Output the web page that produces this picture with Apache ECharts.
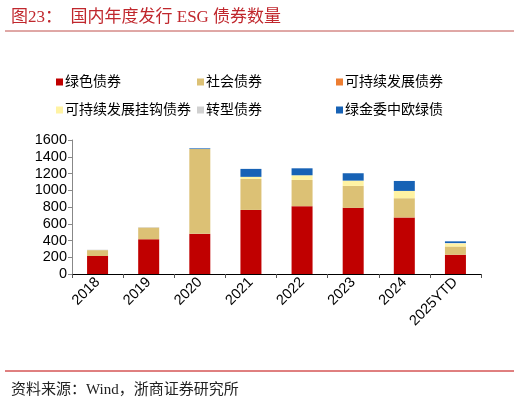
<!DOCTYPE html>
<html>
<head>
<meta charset="utf-8">
<script src="https://cdn.jsdelivr.net/npm/echarts@6/dist/echarts.min.js"></script>
<style>
    html, body { margin: 0; padding: 0; background: #fff; }
    #chart { width: 520px; height: 402px; }
</style>
</head>
<body>
<div id="chart"></div>
<script>
// 年份
const years = ['2018', '2019', '2020', '2021', '2022', '2023', '2024', '2025YTD']

// 各类债券数量（只）
const greenBonds = [215, 415, 480, 765, 810, 790, 675, 230]
const socialBonds = [70, 140, 1012, 370, 313, 262, 230, 99]
const sustainBonds = [0, 0, 0, 0, 0, 0, 0, 0]
const slbBonds = [0, 0, 0, 25, 56, 63, 87, 36]
const transBonds = [5, 5, 0, 0, 0, 0, 0, 5]
const ceuBonds = [0, 0, 8, 95, 83, 88, 119, 20]

const names = ['绿色债券', '社会债券', '可持续发展债券', '可持续发展挂钩债券', '转型债券', '绿金委中欧绿债']
const colors = ['#C00000', '#DCC175', '#ED7D31', '#FFF3A3', '#D0D0D0', '#1762B5']
const values = [greenBonds, socialBonds, sustainBonds, slbBonds, transBonds, ceuBonds]

const serif = '"Liberation Serif", "Noto Sans CJK SC", serif'
const sans = '"Liberation Sans", Arial, "Noto Sans CJK SC", sans-serif'

// 图例位置
const legendPos = [
    [51, 70], [192, 70], [331, 70],
    [51, 98], [192, 98], [331, 98],
]

const chart = echarts.init(document.getElementById('chart'))

const option = {
    animation: false,
    title: [
        {
            text: '图23：  国内年度发行 ESG 债券数量',
            left: 6,
            top: 4,
            textStyle: { fontFamily: serif, fontSize: 17, fontWeight: 'normal', color: '#C0272D' },
        },
        {
            text: '资料来源：Wind，浙商证券研究所',
            left: 6,
            top: 378,
            textStyle: { fontFamily: serif, fontSize: 15, fontWeight: 'normal', color: '#222' },
        },
    ],
    graphic: [
        { type: 'line', shape: { x1: 5, y1: 31, x2: 514, y2: 31 }, style: { stroke: '#C0504D', lineWidth: 1 } },
        { type: 'line', shape: { x1: 5, y1: 371, x2: 514, y2: 371 }, style: { stroke: '#C00000', lineWidth: 1 } },
    ],
    legend: names.map((n, i) => ({
        data: [n],
        left: legendPos[i][0],
        top: legendPos[i][1],
        icon: 'rect',
        itemWidth: 7,
        itemHeight: 7,
        itemGap: 2,
        textStyle: { fontFamily: sans, fontSize: 14, color: '#000', padding: [0, 0, 0, -3] },
    })),
    grid: { left: 72, right: 39, top: 140, bottom: 128 },
    xAxis: {
        type: 'category',
        data: years,
        axisLine: { lineStyle: { color: '#000', width: 1 } },
        axisTick: { show: true, alignWithLabel: false, length: 4, lineStyle: { color: '#555' } },
        axisLabel: { rotate: 45, fontFamily: sans, fontSize: 14.5, color: '#000', margin: 6 },
    },
    yAxis: {
        type: 'value',
        min: 0,
        max: 1600,
        interval: 200,
        splitLine: { show: false },
        axisLine: { show: true, lineStyle: { color: '#888' } },
        axisTick: { show: true, length: 4, lineStyle: { color: '#888' } },
        axisLabel: { fontFamily: sans, fontSize: 14.5, color: '#000', margin: 5, formatter: (v) => String(v) },
    },
    series: names.map((n, i) => ({
        name: n,
        type: 'bar',
        stack: 'total',
        data: values[i],
        barWidth: 21,
        itemStyle: { color: colors[i] },
    })),
}

chart.setOption(option)
</script>
</body>
</html>
